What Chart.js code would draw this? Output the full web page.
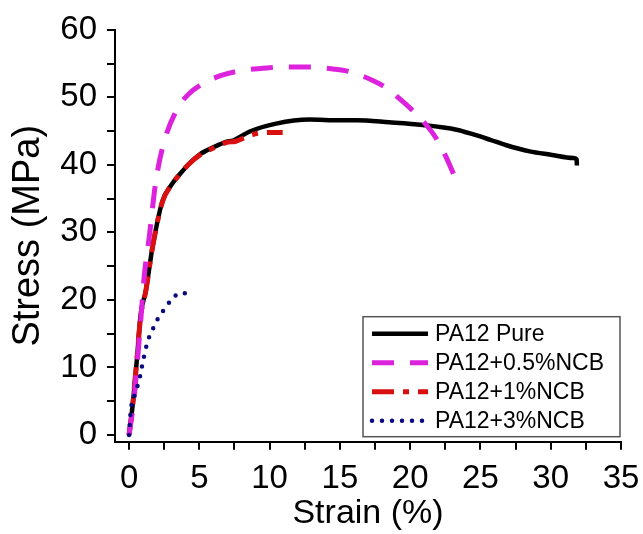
<!DOCTYPE html>
<html lang="en">
<head>
  <meta charset="UTF-8">
  <title>Stress-Strain</title>
  <script src="https://cdn.jsdelivr.net/npm/chart.js"></script>
  <style>
    html, body { margin: 0; padding: 0; background: #fff; }
    #wrap { width: 643px; height: 534px; }
  </style>
</head>
<body>
  <div id="wrap"><canvas id="stressChart"></canvas></div>

  <script>
    // Tensile curves
    const seriesNames = ['PA12 Pure', 'PA12+0.5%NCB', 'PA12+1%NCB', 'PA12+3%NCB'];

    const pureStrain = [0, 0.24, 0.55, 0.83, 1.19, 1.66, 2.37, 3.0, 3.56, 4.3, 5.0, 6.0, 6.9, 7.4, 8.55, 10.46, 12.83, 14.97, 16.16, 18.5, 20.9, 23.3, 24.5, 25.7, 26.85, 28.5, 30.0, 31.6, 31.85, 31.86];
    const pureStress = [0, 4.1, 11.0, 17.9, 21.3, 27.7, 34.6, 37.0, 38.5, 40.2, 41.5, 42.6, 43.4, 43.6, 44.9, 46.1, 46.7, 46.6, 46.6, 46.3, 45.9, 45.2, 44.5, 43.7, 42.9, 42.0, 41.5, 41.0, 40.8, 39.9];

    const ncb05Strain = [0, 0.36, 0.83, 1.07, 1.43, 1.9, 2.49, 3.44, 4.2, 5.22, 6.5, 8.08, 9.5, 10.93, 12.83, 14.5, 15.68, 17.34, 18.3, 19.24, 20.2, 21.15, 21.86, 22.5, 23.16];
    const ncb05Stress = [0, 5.5, 16.9, 23.3, 29.2, 37.5, 43.4, 48.3, 50.4, 52.0, 53.2, 54.0, 54.3, 54.5, 54.5, 54.2, 53.8, 52.5, 51.4, 49.8, 48.0, 45.9, 43.9, 41.4, 38.3];

    const ncb1Strain = [0, 0.24, 0.55, 0.83, 1.19, 1.66, 2.37, 3.0, 3.56, 4.3, 5.0, 6.0, 6.9, 7.6, 8.79, 9.98, 10.93];
    const ncb1Stress = [0, 4.0, 11.0, 17.6, 21.3, 27.7, 34.5, 37.0, 38.5, 40.2, 41.4, 42.5, 43.3, 43.5, 44.5, 44.8, 44.8];

    const ncb3Strain = [0, 0.12, 0.4, 0.71, 1.0, 1.3, 1.65, 2.02, 2.4, 2.73, 3.15, 3.56, 4.16];
    const ncb3Stress = [0, 3.6, 6.0, 8.0, 11.0, 13.7, 15.5, 17.1, 18.3, 19.3, 20.3, 21.0, 21.0];

    const xTicks = [0, 2.5, 5, 7.5, 10, 12.5, 15, 17.5, 20, 22.5, 25, 27.5, 30, 32.5, 35];
    const yTicks = [0, 5, 10, 15, 20, 25, 30, 35, 40, 45, 50, 55, 60];

    const FONT = '"Liberation Sans", Arial, sans-serif';

    function pts(xs, ys) {
      return xs.map((x, i) => ({ x: x, y: ys[i] }));
    }

    // legend drawn inside the plot, bottom right, with a frame
    const boxLegend = {
      id: 'boxLegend',
      afterDraw(chart) {
        const ctx = chart.ctx;
        const area = chart.chartArea;
        const w = 257, h = 120;
        const left = area.right - w - 1;
        const top = area.bottom - h - 5;
        ctx.save();
        ctx.fillStyle = '#fff';
        ctx.fillRect(left, top, w, h);
        ctx.strokeStyle = '#555';
        ctx.lineWidth = 1.5;
        ctx.strokeRect(left, top, w, h);

        ctx.font = '23px ' + FONT;
        ctx.textBaseline = 'middle';
        ctx.textAlign = 'left';
        chart.data.datasets.forEach((ds, i) => {
          const y = top + 17 + i * 29;
          ctx.save();
          ctx.strokeStyle = ds.borderColor;
          ctx.lineWidth = ds.borderWidth;
          ctx.lineCap = ds.borderCapStyle || 'butt';
          ctx.setLineDash(ds.borderDash || []);
          ctx.beginPath();
          ctx.moveTo(left + 9, y);
          ctx.lineTo(left + 65, y);
          ctx.stroke();
          ctx.restore();
          ctx.fillStyle = '#000';
          ctx.fillText(ds.label, left + 72, y + 1);
        });
        ctx.restore();
      }
    };

    const ctx = document.getElementById('stressChart').getContext('2d');
    new Chart(ctx, {
      type: 'scatter',
      data: {
        datasets: [
          {
            label: seriesNames[0],
            data: pts(pureStrain, pureStress),
            showLine: true,
            borderColor: '#000000',
            borderWidth: 4.5,
            pointRadius: 0,
            cubicInterpolationMode: 'monotone',
            order: 4
          },
          {
            label: seriesNames[1],
            data: pts(ncb05Strain, ncb05Stress),
            showLine: true,
            borderColor: '#dd22dd',
            borderWidth: 5,
            borderDash: [22, 16],
            pointRadius: 0,
            cubicInterpolationMode: 'monotone',
            order: 2
          },
          {
            label: seriesNames[2],
            data: pts(ncb1Strain, ncb1Stress),
            showLine: true,
            borderColor: '#d81010',
            borderWidth: 5,
            borderDash: [22, 9, 6, 9],
            pointRadius: 0,
            cubicInterpolationMode: 'monotone',
            order: 3
          },
          {
            label: seriesNames[3],
            data: pts(ncb3Strain, ncb3Stress),
            showLine: true,
            borderColor: '#0a0a80',
            borderWidth: 4.5,
            borderDash: [0, 10],
            borderCapStyle: 'round',
            pointRadius: 0,
            cubicInterpolationMode: 'monotone',
            order: 1
          }
        ]
      },
      options: {
        responsive: true,
        maintainAspectRatio: false,
        animation: false,
        layout: { padding: { left: 0, right: 22, top: 27.7, bottom: 0 } },
        plugins: {
          legend: { display: false },
          tooltip: { enabled: false }
        },
        scales: {
          x: {
            type: 'linear',
            min: -1,
            max: 35,
            afterBuildTicks: s => { s.ticks = xTicks.map(v => ({ value: v })); },
            afterFit: s => { s.height = 92.3; s.paddingLeft = 0; s.paddingRight = 0; },
            border: { display: true, color: '#000', width: 2 },
            grid: { drawOnChartArea: false, drawTicks: true, tickLength: 8, color: '#000', lineWidth: 2 },
            ticks: {
              color: '#000',
              padding: 9,
              maxRotation: 0,
              autoSkip: false,
              font: { family: FONT, size: 33 },
              callback: v => (v % 5 === 0 ? String(v) : '')
            },
            title: {
              display: true,
              text: 'Strain (%)',
              color: '#000',
              font: { family: FONT, size: 34 },
              padding: { top: 0, bottom: 0 }
            }
          },
          y: {
            type: 'linear',
            min: -1,
            max: 60,
            afterBuildTicks: s => { s.ticks = yTicks.map(v => ({ value: v })); },
            afterFit: s => { s.width = 115; },
            border: { display: true, color: '#000', width: 2 },
            grid: { drawOnChartArea: false, drawTicks: true, tickLength: 8, color: '#000', lineWidth: 2 },
            ticks: {
              color: '#000',
              padding: 10,
              autoSkip: false,
              font: { family: FONT, size: 33 },
              callback: v => (v % 10 === 0 ? String(v) : '')
            },
            title: {
              display: true,
              text: 'Stress (MPa)',
              color: '#000',
              font: { family: FONT, size: 38 },
              padding: { top: 6, bottom: 0 }
            }
          }
        }
      },
      plugins: [boxLegend]
    });
  </script>
</body>
</html>
